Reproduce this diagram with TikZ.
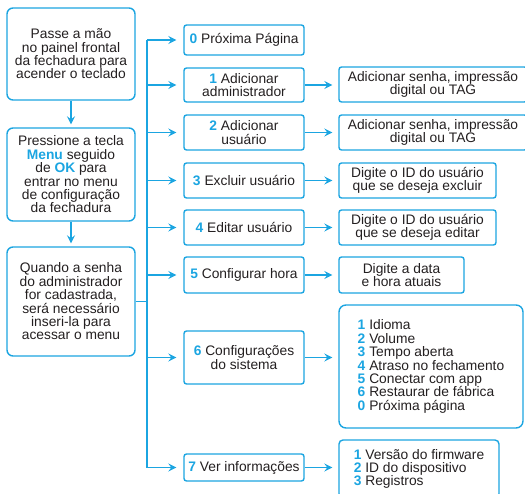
\documentclass[tikz,border=0pt]{standalone}
\usepackage{fontspec}
\setmainfont{Liberation Sans}
\usepackage{tikz}
\usetikzlibrary{arrows.meta, positioning}
\usepackage{xcolor}
\definecolor{azul}{HTML}{1BA5E1}
\definecolor{texto}{HTML}{231F20}
\newcommand{\az}[1]{\textbf{\color{azul}#1}}

\begin{document}
\begin{tikzpicture}[x=1pt, y=-1pt,
    caixa/.style={draw=azul, line width=1.4pt, rounded corners=6pt, align=center,
        text=texto, inner sep=0pt, font=\fontsize{13.8}{13.4}\selectfont},
    menu/.style={caixa, rounded corners=2.5pt, minimum width=120pt},
    opcao/.style={caixa, rounded corners=2.5pt},
    linha/.style={draw=azul, line width=1.4pt},
    seta/.style={linha, -{Stealth[length=8pt, width=8pt, inset=3pt]}, shorten >=7pt}]
    \useasboundingbox (0,0) rectangle (525,494);
    \clip (0,0) rectangle (525,494);
    % Passos
    \node[caixa, minimum width=128pt, minimum height=92pt] (passe) at (71,54)
        {Passe a mão\\no painel frontal\\da fechadura para\\acender o teclado};
    \node[caixa, minimum width=128pt, minimum height=93pt] (pressione) at (71,174.5)
        {Pressione a tecla\\\az{Menu} seguido\\de \az{OK} para\\entrar no menu\\de configuração\\da fechadura};
    \node[caixa, minimum width=128pt, minimum height=109pt] (quando) at (71,301.5)
        {Quando a senha\\do administrador\\for cadastrada,\\será necessário\\inseri-la para\\acessar o menu};
    \draw[seta, shorten >=3pt] (passe) -- (pressione);
    \draw[seta, shorten >=3pt] (pressione) -- (quando);
    % Menu
    \node[menu, minimum height=30pt] (m0) at (244,40) {\az{0} Próxima Página};
    \node[menu, minimum height=34pt] (m1) at (244,85) {\az{1} Adicionar\\administrador};
    \node[menu, minimum height=35pt] (m2) at (244,132.5) {\az{2} Adicionar\\usuário};
    \node[menu, minimum height=35pt] (m3) at (244,180.5) {\az{3} Excluir usuário};
    \node[menu, minimum height=35pt] (m4) at (244,227.5) {\az{4} Editar usuário};
    \node[menu, minimum height=36pt] (m5) at (244,275) {\az{5} Configurar hora};
    \node[menu, minimum height=53pt] (m6) at (244,357.5) {\az{6} Configurações\\do sistema};
    \node[menu, minimum height=27pt] (m7) at (244,467.5) {\az{7} Ver informações};
    % Opcoes
    \node[opcao, minimum width=188pt, minimum height=35pt] (r1) at (433,84.5)
        {Adicionar senha, impressão\\digital ou TAG};
    \node[opcao, minimum width=188pt, minimum height=35pt] (r2) at (433,132.5)
        {Adicionar senha, impressão\\digital ou TAG};
    \node[opcao, minimum width=157pt, minimum height=35pt] (r3) at (417.5,180.5)
        {Digite o ID do usuário\\que se deseja excluir};
    \node[opcao, minimum width=157pt, minimum height=35pt] (r4) at (417.5,227.5)
        {Digite o ID do usuário\\que se deseja editar};
    \node[opcao, minimum width=125pt, minimum height=36pt] (r5) at (401.5,275)
        {Digite a data\\e hora atuais};
    \node[opcao, rounded corners=7pt, align=left, minimum width=184pt, minimum height=123pt] (r6) at (431,366.5)
        {\az{1} Idioma\\\az{2} Volume\\\az{3} Tempo aberta\\\az{4} Atraso no fechamento\\\az{5} Conectar com app\\\az{6} Restaurar de fábrica\\\az{0} Próxima página};
    \node[opcao, rounded corners=4pt, align=left, minimum width=160pt, minimum height=58pt] (r7) at (419,469)
        {\az{1} Versão do firmware\\\az{2} ID do dispositivo\\\az{3} Registros};
    % Ligacoes
    \coordinate (barra) at (147,0);
    \draw[linha] (quando.east) -- (barra |- quando.east);
    \draw[linha] (barra |- m0.west) -- (barra |- m7.west);
    \foreach \i in {0,...,7}
        \draw[seta] (barra |- m\i.west) -- (m\i.west);
    \foreach \i in {1,...,7}
        \draw[seta, shorten >=6pt] (m\i.east) -- (m\i.east -| r\i.west);
\end{tikzpicture}
\end{document}
